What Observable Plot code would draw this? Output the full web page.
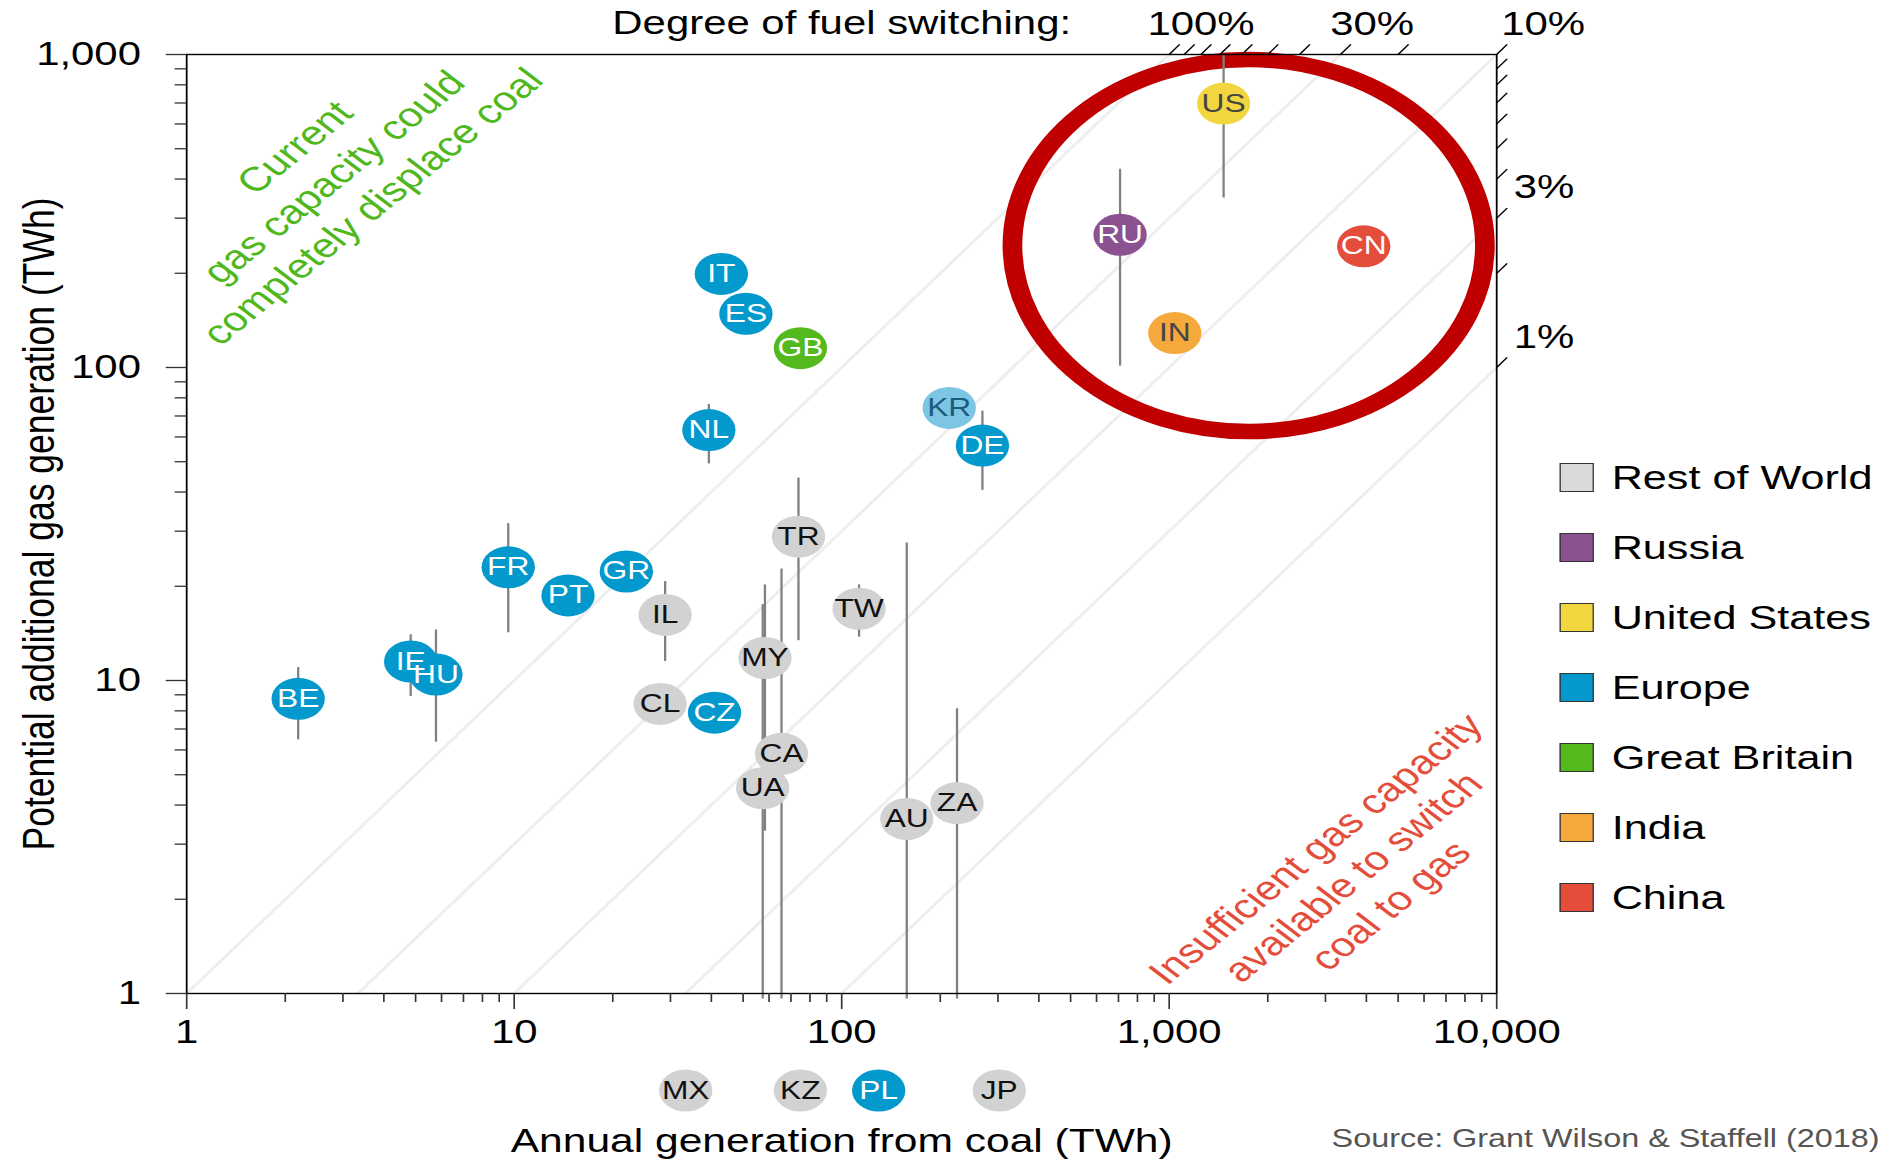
<!DOCTYPE html>
<html>
<head>
<meta charset="utf-8">
<script src="https://cdn.jsdelivr.net/npm/d3@7"></script>
<script src="https://cdn.jsdelivr.net/npm/@observablehq/plot@0.6"></script>
<style>
html, body { margin: 0; padding: 0; background: #fff; overflow: hidden; }
body { width: 1881px; height: 1160px; position: relative; }
#wrap { position: absolute; left: 0; top: 0; width: 1481px; height: 1160px;
  transform: scale(1.27, 1); transform-origin: 0 0;
  font-family: "Liberation Sans", Arial, Helvetica, sans-serif; }
#legend { position: absolute; left: 1228px; top: 463px; }
.row { display: flex; align-items: center; height: 28.7px; margin-bottom: 41.3px; }
.sw { width: 27px; height: 28.7px; box-sizing: border-box; border: 1.6px solid #333; }
.lab { margin-left: 14px; font-size: 34px; line-height: 28.7px; color: #000; white-space: nowrap; }
</style>
</head>
<body>
<div id="wrap"></div>
<script>
// ---------- data ----------
const codes    = ["BE","IE","HU","FR","PT","GR","IL","CL","CZ","NL","IT","ES","GB","MY","CA","UA","TR","TW","AU","ZA","KR","DE","RU","IN","US","CN"];
const coalTWh  = [2.19,4.83,5.77,9.59,14.6,22.0,28.9,27.9,40.9,39.3,42.9,51.0,74.8,58.3,65.5,57.4,73.8,113,158,225,213,269,708,1040,1466,3926];
const gasTWh   = [8.74,11.5,10.45,23.0,18.7,22.3,16.2,8.42,7.89,63.1,199,148.5,115.3,11.8,5.83,4.53,28.8,16.95,3.61,4.06,74.3,56.3,265.5,128.8,697,243.8];
const gasLow   = [6.46,8.89,6.35,14.2,null,null,11.5,null,null,49.2,null,null,null,3.3,0.96,0.96,13.4,13.75,0.96,0.96,null,40.5,101,null,348,null];
const gasHigh  = [11.0,14.0,14.5,31.7,null,null,20.7,null,null,76.2,null,null,null,20.2,22.7,17.5,44.3,20.2,27.5,8.12,null,72.5,430,null,1000,null];
const regionOf = ["Europe","Europe","Europe","Europe","Europe","Europe","Rest of World","Rest of World","Europe","Europe","Europe","Europe","Great Britain","Rest of World","Rest of World","Rest of World","Rest of World","Rest of World","Rest of World","Rest of World","Korea","Europe","Russia","India","United States","China"];

// countries with no additional gas potential (shown below the axis)
const offCodes  = ["MX","KZ","PL","JP"];
const offCoal   = [33.4,74.8,129.7,302.8];
const offRegion = ["Rest of World","Rest of World","Europe","Rest of World"];

const legendRegions = ["Rest of World","Russia","United States","Europe","Great Britain","India","China"];
const regionNames   = ["Rest of World","Russia","United States","Europe","Great Britain","India","China","Korea"];
const regionFill    = ["#d2d2d2","#8b5190","#f2d640","#0399cc","#54b91d","#f5a83c","#e54d3b","#7dc5e5"];
const regionInk     = ["#111111","#ffffff","#454545","#ffffff","#ffffff","#454545","#ffffff","#1b5c7c"];
const legendFill    = ["#dadada","#8b5190","#f2d640","#0399cc","#54b91d","#f5a83c","#e54d3b"];

const switchLines = [1, 0.3, 0.1, 0.03, 0.01];           // degree of fuel switching lines
const topHatch    = [1, 0.9, 0.8, 0.7, 0.6, 0.5, 0.4, 0.3, 0.2, 0.1];
const rightHatch  = [0.09, 0.08, 0.07, 0.06, 0.05, 0.04, 0.03, 0.02, 0.01];
const pctValues   = [1, 0.3, 0.1, 0.03, 0.01];
const pctLabels   = ["100%","30%","10%","3%","1%"];

const xTicks = [1, 10, 100, 1000, 10000];
const yTicks = [1, 10, 100, 1000];
const minorMult = [2,3,4,5,6,7,8,9];

const greenNote = "Current\ngas capacity could\ncompletely displace coal";
const redNote   = "Insufficient gas capacity\navailable to switch\ncoal to gas";
const xTitle = "Annual generation from coal (TWh)";
const yTitle = "Potential additional gas generation (TWh)";
const topTitle = "Degree of fuel switching:";
const source = "Source: Grant Wilson & Staffell (2018)";

// ---------- build tables ----------
const fillOf = r => regionFill[regionNames.indexOf(r)];
const inkOf  = r => regionInk[regionNames.indexOf(r)];
const countries = codes.map((c, i) => ({code: c, coal: coalTWh[i], gas: gasTWh[i], lo: gasLow[i], hi: gasHigh[i], region: regionOf[i]}));
const bars = countries.filter(d => d.lo != null);
const offScale = offCodes.map((c, i) => ({code: c, coal: offCoal[i], region: offRegion[i]}));

const xDom = [1, 10000], yDom = [1, 1000];
const diag = switchLines.flatMap(p => [{p, coal: xDom[0], gas: p * xDom[0]}, {p, coal: xDom[1], gas: p * xDom[1]}]);
const edge = p => p >= 0.1 ? {coal: yDom[1] / p, gas: yDom[1]} : {coal: xDom[1], gas: xDom[1] * p};
const hatchExt = Math.pow(10, 0.032), labelExt = Math.pow(10, 0.097);
const hatches = [...topHatch, ...rightHatch].map(p => edge(p));
const pctData = pctValues.map((p, i) => ({...edge(p), p, label: pctLabels[i]}));
const minorX = xTicks.slice(0, -1).flatMap(d => minorMult.map(m => d * m));
const minorY = yTicks.slice(0, -1).flatMap(d => minorMult.map(m => d * m));

const FONT = '"Liberation Sans", Arial, Helvetica, sans-serif';

const chart = Plot.plot({
  width: 1481, height: 1160,
  marginLeft: 146.5, marginRight: 303, marginTop: 54, marginBottom: 167,
  x: {type: "log", domain: xDom},
  y: {type: "log", domain: yDom},
  color: {type: "identity"},
  style: {fontFamily: FONT, fontSize: "33px", background: "transparent", overflow: "visible", color: "#000"},
  marks: [
    Plot.line(diag, {x: "coal", y: "gas", z: "p", stroke: "#eeeeee", strokeWidth: 2.6, clip: true}),
    Plot.dot([0], {frameAnchor: "top-right", dx: -195.3, dy: 191, r: 186, stroke: "#c00000", strokeWidth: 15.5, fill: "none"}),
    Plot.ruleX(bars, {x: "coal", y1: "lo", y2: "hi", stroke: "#808080", strokeWidth: 1.8}),
    Plot.dot(countries, {x: "coal", y: "gas", r: 21, fill: d => fillOf(d.region), stroke: null}),
    Plot.text(countries, {x: "coal", y: "gas", text: "code", fill: d => inkOf(d.region), fontSize: 25, textAnchor: "middle", lineAnchor: "middle"}),
    Plot.dot(offScale, {x: "coal", frameAnchor: "bottom", dy: 97, r: 21, fill: d => fillOf(d.region)}),
    Plot.text(offScale, {x: "coal", frameAnchor: "bottom", dy: 97, text: "code", fill: d => inkOf(d.region), fontSize: 25, textAnchor: "middle", lineAnchor: "middle"}),
    Plot.frame({stroke: "#000", strokeWidth: 1.4}),
    Plot.axisX({ticks: xTicks, tickSize: 16, tickPadding: 10, tickFormat: d3.format(","), label: null, stroke: "#333", strokeWidth: 1.3, fill: "#000"}),
    Plot.axisX({ticks: minorX, tickSize: 9, tickFormat: () => "", label: null, stroke: "#333", strokeWidth: 1.3}),
    Plot.axisY({ticks: yTicks, tickSize: 16, tickPadding: 20, tickFormat: d3.format(","), label: null, stroke: "#333", strokeWidth: 1.3, fill: "#000"}),
    Plot.axisY({ticks: minorY, tickSize: 9, tickFormat: () => "", label: null, stroke: "#333", strokeWidth: 1.3}),
    Plot.link(hatches, {x1: "coal", y1: "gas", x2: d => d.coal * hatchExt, y2: d => d.gas * hatchExt, stroke: "#000", strokeWidth: 1.2}),
    Plot.text(pctData.filter(d => d.p > 0.1), {x: d => d.coal * labelExt, y: d => d.gas * labelExt, text: "label", textAnchor: "middle", lineAnchor: "middle", fontSize: 33}),
    Plot.text(pctData.filter(d => d.p === 0.1), {x: d => d.coal * labelExt, y: d => d.gas * labelExt, text: "label", textAnchor: "middle", lineAnchor: "middle", dx: 11.6, fontSize: 33}),
    Plot.text(pctData.filter(d => d.p < 0.1), {x: d => d.coal * labelExt, y: d => d.gas * labelExt, text: "label", textAnchor: "start", lineAnchor: "middle", dx: -11.6, fontSize: 33}),
    Plot.text([topTitle], {frameAnchor: "top", dy: -31.5, text: d => d, textAnchor: "middle", lineAnchor: "middle", fontSize: 33}),
    Plot.text([xTitle], {frameAnchor: "bottom", dy: 148, text: d => d, textAnchor: "middle", lineAnchor: "middle", fontSize: 33.5}),
    Plot.text([yTitle], {frameAnchor: "left", dx: -115.8, rotate: -90, text: d => d, textAnchor: "middle", lineAnchor: "middle", fontSize: 35.5}),
    Plot.text([greenNote], {frameAnchor: "top-left", dx: 114, dy: 121, rotate: -46, text: d => d, textAnchor: "middle", lineAnchor: "middle", lineHeight: 1.25, fontSize: 34, fill: "#4fb81c"}),
    Plot.text([redNote], {frameAnchor: "bottom-right", dx: -114.5, dy: -117.6, rotate: -46, text: d => d, textAnchor: "middle", lineAnchor: "middle", lineHeight: 1.2, fontSize: 34, fill: "#e54d3b"}),
    Plot.text([source], {frameAnchor: "bottom-right", dx: 301.5, dy: 145, text: d => d, textAnchor: "end", lineAnchor: "middle", fontSize: 25.5, fill: "#555"})
  ]
});

const wrap = document.getElementById("wrap");
wrap.appendChild(chart);

const legend = document.createElement("div");
legend.id = "legend";
legendRegions.forEach((r, i) => {
  const row = document.createElement("div");
  row.className = "row";
  const sw = document.createElement("div");
  sw.className = "sw";
  sw.style.background = legendFill[i];
  const lab = document.createElement("div");
  lab.className = "lab";
  lab.textContent = r;
  row.appendChild(sw);
  row.appendChild(lab);
  legend.appendChild(row);
});
wrap.appendChild(legend);
</script>
</body>
</html>
